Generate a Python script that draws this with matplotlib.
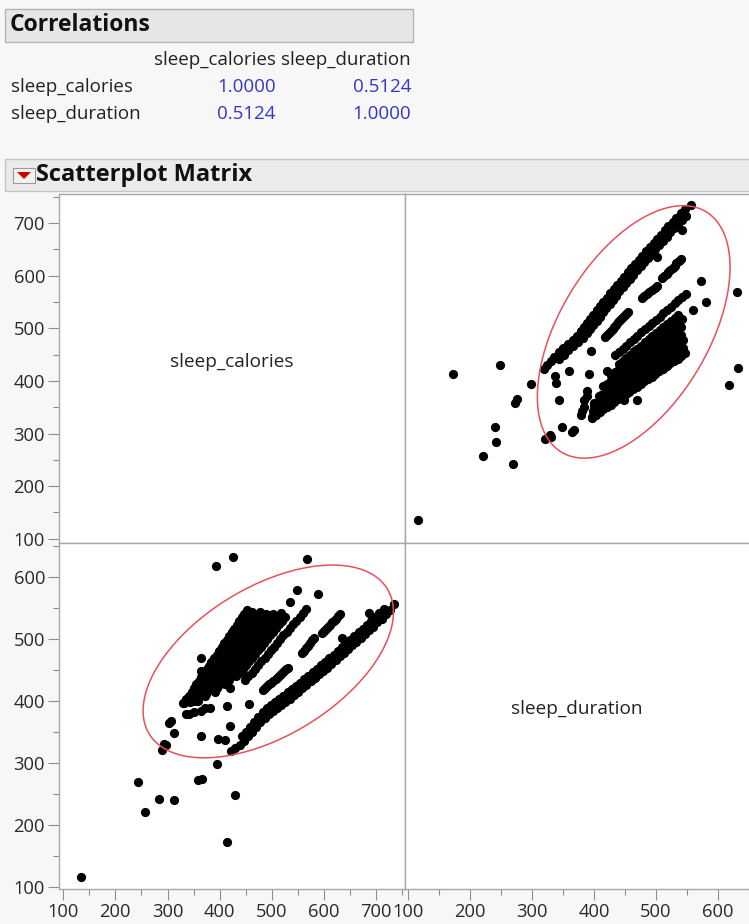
import numpy as np
import matplotlib
matplotlib.use('Agg')
import matplotlib.pyplot as plt
from matplotlib.patches import Rectangle, Polygon

sleep_calories = [
    # scattered points / outliers
    135, 243, 257, 283, 313, 289, 293, 297, 303, 306, 312, 329, 335, 342, 350,
    358, 373, 358, 366, 364, 394, 396, 410, 414, 430, 419, 413, 381, 419, 364,
    364, 393, 425, 568, 589, 549, 686, 635, 456, 534, 452, 364, 372,
    # long band (lower edge)
    422, 430, 438, 446, 454, 462, 470, 478, 486, 494, 502, 510, 518, 526, 534,
    542, 550, 558, 566, 574, 582, 590, 598, 606, 614, 622, 630, 638, 646, 654,
    662, 670, 678, 686, 694, 702, 710, 718, 726, 734,
    # long band (upper edge)
    442, 450, 458, 466, 474, 482, 490, 498, 506, 514, 522, 530, 538, 546, 554,
    562, 570, 578, 586, 594, 602, 610, 618, 626, 634, 642, 650, 658, 666, 674,
    682, 690, 698, 706, 714,
    # dashed band
    483, 487, 491, 495, 499, 503, 507, 511, 515, 519, 523, 527, 531,
    557, 561, 565, 569, 573, 577, 581,
    595, 599, 603, 607, 611, 615, 619, 623, 627, 631,
    # middle band
    449, 455, 461, 467, 473, 480, 486, 492, 498, 504, 510, 516, 522, 528, 534,
    541, 547, 553, 559, 565,
    # dense cluster, stripe by stripe
    331, 336, 341, 346, 350, 355, 360, 365, 370, 375, 379, 384, 389, 394, 399,
    404, 408, 413, 418, 423, 428, 433, 437, 442, 447,
    343, 348, 353, 358, 363, 368, 373, 378, 383, 388, 393, 398, 402, 407, 412,
    417, 422, 427, 432, 437, 442, 447, 452, 457, 462,
    352, 357, 362, 368, 373, 378, 383, 388, 394, 399, 404, 409, 414, 420, 425,
    430, 435, 440, 446, 451, 456, 461, 466, 472, 477,
    371, 376, 382, 387, 392, 398, 403, 408, 414, 419, 424, 430, 435, 440, 446,
    451, 456, 462, 467, 472, 478, 483, 488,
    390, 395, 401, 406, 412, 417, 422, 428, 433, 439, 444, 449, 455, 460, 466,
    471, 476, 482, 487, 493, 498, 503,
    411, 417, 422, 428, 434, 439, 445, 450, 456, 462, 467, 473, 479, 484, 490,
    495, 501, 507, 512, 518,
    432, 438, 444, 450, 456, 461, 467, 473, 479, 485, 491, 497, 503, 508, 514,
    520, 526,
]
sleep_duration = [
    116, 269, 221, 242, 240, 321, 331, 329, 365, 368, 348, 397, 379, 380, 383,
    400, 411, 273, 275, 344, 298, 339, 337, 172, 249, 360, 392, 389, 421, 449,
    470, 618, 633, 630, 572, 580, 542, 502, 395, 560, 547, 384, 389,
    319, 324, 330, 336, 343, 350, 358, 366, 373, 379, 384, 389, 394, 399, 404,
    410, 415, 421, 426, 432, 437, 443, 449, 454, 460, 466, 472, 478, 484, 490,
    496, 502, 508, 514, 520, 527, 533, 540, 547, 556,
    344, 351, 358, 366, 374, 382, 389, 394, 399, 404, 409, 414, 419, 425, 430,
    436, 441, 447, 452, 458, 463, 469, 475, 481, 487, 493, 499, 505, 511, 517,
    523, 529, 535, 542, 549,
    418, 421, 424, 427, 430, 433, 436, 439, 442, 445, 448, 451, 454,
    477, 481, 485, 489, 494, 498, 502,
    510, 513, 517, 520, 523, 527, 530, 533, 537, 540,
    434, 440, 446, 452, 458, 464, 470, 476, 482, 488, 494, 500, 506, 512, 518,
    524, 530, 536, 542, 548,
    397, 403, 409, 415, 421, 427, 433, 439, 445, 451, 457, 463, 469, 475, 481,
    487, 493, 499, 505, 511, 517, 523, 529, 535, 541,
    399, 405, 411, 417, 423, 429, 435, 441, 447, 453, 459, 465, 471, 477, 483,
    489, 495, 501, 507, 513, 519, 525, 531, 537, 543,
    400, 406, 412, 418, 424, 430, 436, 442, 448, 454, 460, 466, 472, 478, 484,
    490, 496, 502, 508, 514, 520, 526, 532, 538, 544,
    408, 414, 420, 426, 432, 438, 444, 450, 456, 462, 468, 474, 480, 486, 492,
    498, 504, 510, 516, 522, 528, 534, 540,
    415, 421, 427, 433, 439, 445, 451, 457, 463, 469, 475, 481, 487, 493, 499,
    505, 511, 517, 523, 529, 535, 541,
    428, 434, 440, 446, 452, 458, 464, 470, 476, 482, 488, 494, 500, 506, 512,
    518, 524, 530, 536, 542,
    440, 446, 452, 458, 464, 470, 476, 482, 488, 494, 500, 506, 512, 518, 524,
    530, 536,
]

variables = ['sleep_calories', 'sleep_duration']
corr_values = [[1.0000, 0.5124], [0.5124, 1.0000]]

# 95% density ellipse summary
cal_mean, dur_mean = 493, 464
cal_sd, dur_sd = 98, 63.5
r = 0.5124

cal_lim = (92, 755)
dur_lim_x = (95, 650)
dur_lim_y = (97, 655)
major_ticks = [100, 200, 300, 400, 500, 600, 700]
minor_ticks = [150, 250, 350, 450, 550, 650, 750]

W, H = 749, 924
plt.rcParams['font.family'] = ['Open Sans', 'DejaVu Sans']

fig = plt.figure(figsize=(W / 100, H / 100), dpi=100)
fig.patch.set_facecolor('#f7f7f7')


def fx(x):
    return x / W


def fy(y):
    return 1 - y / H


def px_ax(x0, y0, x1, y1):
    return fig.add_axes([fx(x0), fy(y1), (x1 - x0) / W, (y1 - y0) / H])


# Correlations header + table
fig.add_artist(Rectangle((fx(5), fy(42)), fx(408), 33 / H, transform=fig.transFigure,
                         facecolor='#e6e6e6', edgecolor='#b4b4b4', lw=1))
fig.text(fx(10), fy(25), 'Correlations', fontsize=16.5, fontweight='bold',
         va='center', ha='left', color='#111111')
col_right = [276, 411]
for j in range(2):
    fig.text(fx(col_right[j]), fy(60), variables[j], fontsize=13.5, ha='right',
             va='center', color='#222222')
for i, name in enumerate(variables):
    yy = 87 + i * 27
    fig.text(fx(11), fy(yy), name, fontsize=13.5, ha='left', va='center', color='#222222')
    for j in range(2):
        fig.text(fx(col_right[j]), fy(yy), '%.4f' % corr_values[i][j], fontsize=13.5,
                 ha='right', va='center', color='#3535c8')

# Scatterplot Matrix header
fig.add_artist(Rectangle((fx(5), fy(191)), fx(760), 32 / H, transform=fig.transFigure,
                         facecolor='#ebebeb', edgecolor='#c4c4c4', lw=1))
fig.add_artist(Rectangle((fx(13), fy(183)), fx(22), 15 / H, transform=fig.transFigure,
                         facecolor='#f2f2f2', edgecolor='#9a9a9a', lw=0.8))
fig.add_artist(Polygon([(fx(17), fy(172)), (fx(31), fy(172)), (fx(24), fy(179))],
                       closed=True, transform=fig.transFigure, facecolor='#d00000', edgecolor='none'))
fig.text(fx(36), fy(175), 'Scatterplot Matrix', fontsize=17, fontweight='bold',
         va='center', ha='left', color='#111111')

# Matrix panels
x_left, x_mid, x_right = 59, 405, 749
y_top, y_mid, y_bot = 194, 543, 889
ax_tl = px_ax(x_left, y_top, x_mid, y_mid)
ax_tr = px_ax(x_mid, y_top, x_right, y_mid)
ax_bl = px_ax(x_left, y_mid, x_mid, y_bot)
ax_br = px_ax(x_mid, y_mid, x_right, y_bot)

for ax in (ax_tl, ax_tr, ax_bl, ax_br):
    ax.set_facecolor('white')
    for sp in ax.spines.values():
        sp.set_color('#a8a8a8')
        sp.set_linewidth(1.0)
    ax.tick_params(which='major', length=8, width=0.8, color='#8c8c8c',
                   labelsize=13.2, labelcolor='#2a2a2a', pad=2)
    ax.tick_params(which='minor', length=4, width=0.8, color='#8c8c8c')
    ax.set_xticks([])
    ax.set_yticks([])
for ax in (ax_tr, ax_br):
    ax.spines['right'].set_visible(False)

# diagonal labels
ax_tl.set_ylim(cal_lim)
ax_tl.set_yticks(major_ticks)
ax_tl.set_yticks(minor_ticks, minor=True)
ax_tl.text(0.5, 0.52, variables[0], transform=ax_tl.transAxes, fontsize=13.7,
           ha='center', va='center', color='#222222')

ax_br.set_xlim(dur_lim_x)
ax_br.set_xticks(major_ticks[:6])
ax_br.set_xticks(minor_ticks[:6], minor=True)
ax_br.text(0.5, 0.52, variables[1], transform=ax_br.transAxes, fontsize=13.7,
           ha='center', va='center', color='#222222')

# density ellipse
t = np.linspace(0, 2 * np.pi, 300)
c = np.sqrt(5.991)
ell_cal = cal_mean + c * cal_sd * np.cos(t)
ell_dur = dur_mean + c * dur_sd * (r * np.cos(t) + np.sqrt(1 - r ** 2) * np.sin(t))

# top right: x = duration, y = calories
ax_tr.scatter(sleep_duration, sleep_calories, s=44, color='black', linewidths=0, zorder=2)
ax_tr.plot(ell_dur, ell_cal, color='#e8505a', lw=1.1, zorder=3)
ax_tr.set_xlim(dur_lim_x)
ax_tr.set_ylim(cal_lim)

# bottom left: x = calories, y = duration
ax_bl.scatter(sleep_calories, sleep_duration, s=44, color='black', linewidths=0, zorder=2)
ax_bl.plot(ell_cal, ell_dur, color='#e8505a', lw=1.1, zorder=3)
ax_bl.set_xlim(cal_lim)
ax_bl.set_ylim(dur_lim_y)
ax_bl.set_xticks(major_ticks)
ax_bl.set_xticks(minor_ticks, minor=True)
ax_bl.set_yticks(major_ticks[:6])
ax_bl.set_yticks(minor_ticks[:6], minor=True)

fig.savefig('out.png', dpi=100, facecolor=fig.get_facecolor())
